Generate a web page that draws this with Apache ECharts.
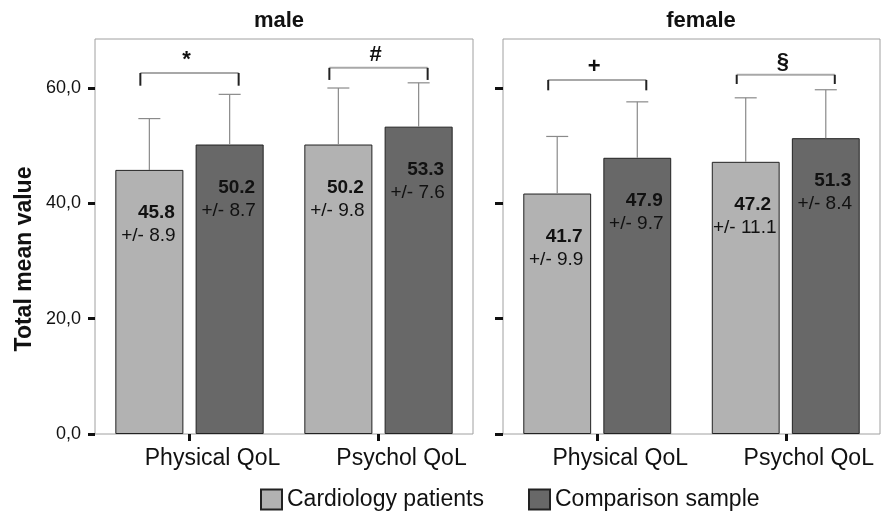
<!DOCTYPE html>
<html>
<head>
<meta charset="utf-8">
<script src="https://cdn.jsdelivr.net/npm/echarts@6/dist/echarts.min.js"></script>
<style>html,body{margin:0;padding:0;background:#fff}#c{width:887px;height:511px}</style>
</head>
<body>
<div id="c"></div>
<script>
// ---- data ----
const categories = ['Physical QoL', 'Psychol QoL'];
const panels = ['male', 'female'];
const seriesNames = ['Cardiology patients', 'Comparison sample'];
const maleCardio = [45.8, 50.2];
const maleCardioSD = [8.9, 9.8];
const maleComp = [50.2, 53.3];
const maleCompSD = [8.7, 7.6];
const femaleCardio = [41.7, 47.2];
const femaleCardioSD = [9.9, 11.1];
const femaleComp = [47.9, 51.3];
const femaleCompSD = [9.7, 8.4];
const maleSigSymbols = ['*', '#'];
const maleSigTop = [62.6, 63.5];
const maleSigFoot = [60.4, 61.4];
const femaleSigSymbols = ['+', '§'];
const femaleSigTop = [61.4, 62.3];
const femaleSigFoot = [59.6, 60.7];
const yTickValues = [0, 20, 40, 60];
const yTickLabels = ['0,0', '20,0', '40,0', '60,0'];
const yAxisTitle = 'Total mean value';
const yMax = 68.5;

// ---- style ----
const FONT = '"Liberation Sans", Arial, Helvetica, sans-serif';
const BAR_W = 0.36, BAR_GAP = 0.18;
const COL_LIGHT = '#b2b2b2', COL_DARK = '#686868';

function errRender(side) {
  return function (params, api) {
    const band = api.size([1, 0])[0];
    const bw = band * BAR_W;
    const cx = api.coord([api.value(0), 0])[0] + side * bw * (1 + BAR_GAP) / 2;
    const yTop = api.coord([api.value(0), api.value(1)])[1];
    const yErr = api.coord([api.value(0), api.value(1) + api.value(2)])[1];
    const ls = { stroke: '#8a8a8a', lineWidth: 1.2 };
    return {
      type: 'group', children: [
        { type: 'line', shape: { x1: cx, y1: yTop, x2: cx, y2: yErr }, style: ls },
        { type: 'line', shape: { x1: cx - 11, y1: yErr, x2: cx + 11, y2: yErr }, style: ls },
        { type: 'text', style: { text: api.value(1).toFixed(1), x: cx + bw / 2 - 8.5, y: yTop + 43, align: 'right', verticalAlign: 'middle', font: 'bold 19px ' + FONT, fill: '#111' } },
        { type: 'text', style: { text: '+/- ' + api.value(2).toFixed(1), x: cx - 1, y: yTop + 66, align: 'center', verticalAlign: 'middle', font: '19px ' + FONT, fill: '#111' } }
      ]
    };
  };
}

function bracketRender(symbols) {
  return function (params, api) {
    const band = api.size([1, 0])[0];
    const bw = band * BAR_W;
    const c = api.coord([api.value(0), api.value(1)]);
    const yF = api.coord([api.value(0), api.value(2)])[1];
    const half = bw * (1 + BAR_GAP) / 2 + 9;
    const x1 = c[0] - half, x2 = c[0] + half, y = c[1];
    return {
      type: 'group', children: [
        { type: 'line', shape: { x1: x1, y1: y, x2: x2, y2: y }, style: { stroke: '#a8a8a8', lineWidth: 2 } },
        { type: 'line', shape: { x1: x1, y1: y, x2: x1, y2: yF }, style: { stroke: '#222', lineWidth: 2 } },
        { type: 'line', shape: { x1: x2, y1: y, x2: x2, y2: yF }, style: { stroke: '#222', lineWidth: 2 } },
        { type: 'text', style: { text: symbols[params.dataIndex], x: c[0] - 3, y: y - 2, align: 'center', verticalAlign: 'bottom', font: 'bold 22px ' + FONT, fill: '#111' } }
      ]
    };
  };
}

function triples(means, sds) { return means.map((m, i) => [i, m, sds[i]]); }

const grids = [
  { left: 95, right: 414, top: 39, bottom: 77, show: true, borderColor: '#a0a0a0', borderWidth: 1 },
  { left: 503, right: 7, top: 39, bottom: 77, show: true, borderColor: '#a0a0a0', borderWidth: 1 }
];

const xAxes = [0, 1].map(g => ({
  gridIndex: g, type: 'category', data: categories,
  axisLine: { show: false },
  axisTick: { show: true, alignWithLabel: true, length: 7, lineStyle: { color: '#111', width: 3 } },
  axisLabel: { fontSize: 23, fontFamily: FONT, color: '#111', margin: 13, padding: [0, 0, 0, 46] }
}));

const yAxes = [0, 1].map(g => ({
  gridIndex: g, type: 'value', min: 0, max: yMax, interval: 20,
  axisLine: { show: false },
  splitLine: { show: false },
  axisTick: { show: true, customValues: yTickValues, length: g === 0 ? 7 : 8, lineStyle: { color: '#111', width: 3 } },
  axisLabel: {
    show: g === 0, customValues: yTickValues, fontSize: 18, fontFamily: FONT, color: '#111', margin: 14,
    formatter: v => { const i = yTickValues.indexOf(v); return i >= 0 ? yTickLabels[i] : ''; }
  }
}));

const barCommon = { type: 'bar', barWidth: (BAR_W * 100) + '%', barGap: (BAR_GAP * 100) + '%' };
const panelData = [
  [maleCardio, maleCardioSD, maleComp, maleCompSD, maleSigSymbols, maleSigTop, maleSigFoot],
  [femaleCardio, femaleCardioSD, femaleComp, femaleCompSD, femaleSigSymbols, femaleSigTop, femaleSigFoot]
];
const series = [];
panelData.forEach((pd, g) => {
  series.push(Object.assign({}, barCommon, { name: seriesNames[0], xAxisIndex: g, yAxisIndex: g, data: pd[0], itemStyle: { color: COL_LIGHT, borderColor: '#222', borderWidth: 1 } }));
  series.push(Object.assign({}, barCommon, { name: seriesNames[1], xAxisIndex: g, yAxisIndex: g, data: pd[2], itemStyle: { color: COL_DARK, borderColor: '#222', borderWidth: 1 } }));
});
panelData.forEach((pd, g) => {
  series.push({ type: 'custom', xAxisIndex: g, yAxisIndex: g, z: 5, clip: false, renderItem: errRender(-1), data: triples(pd[0], pd[1]), encode: { x: 0, y: 1 }, silent: true });
  series.push({ type: 'custom', xAxisIndex: g, yAxisIndex: g, z: 5, clip: false, renderItem: errRender(1), data: triples(pd[2], pd[3]), encode: { x: 0, y: 1 }, silent: true });
  series.push({ type: 'custom', xAxisIndex: g, yAxisIndex: g, z: 5, clip: false, renderItem: bracketRender(pd[4]), data: pd[5].map((t, i) => [i, t, pd[6][i]]), encode: { x: 0, y: 1 }, silent: true });
});

const legendCommon = { icon: 'rect', itemWidth: 21, itemHeight: 20, top: 483, textStyle: { fontSize: 23, fontFamily: FONT, color: '#111' } };

const chart = echarts.init(document.getElementById('c'), null, { renderer: 'canvas' });
chart.setOption({
  animation: false,
  backgroundColor: '#fff',
  grid: grids,
  xAxis: xAxes,
  yAxis: yAxes,
  legend: [
    Object.assign({}, legendCommon, { left: 255, data: [seriesNames[0]] }),
    Object.assign({}, legendCommon, { left: 523, data: [seriesNames[1]] })
  ],
  graphic: [
    { type: 'text', x: 279, y: 21, style: { text: panels[0], align: 'center', verticalAlign: 'middle', textAlign: 'center', textVerticalAlign: 'middle', font: 'bold 22px ' + FONT, fill: '#111' } },
    { type: 'text', x: 701, y: 21, style: { text: panels[1], align: 'center', verticalAlign: 'middle', textAlign: 'center', textVerticalAlign: 'middle', font: 'bold 22px ' + FONT, fill: '#111' } },
    { type: 'text', x: 25, y: 259, rotation: Math.PI / 2, style: { text: yAxisTitle, align: 'center', verticalAlign: 'middle', textAlign: 'center', textVerticalAlign: 'middle', font: 'bold 23px ' + FONT, fill: '#111' } }
  ],
  series: series
});
</script>
</body>
</html>
